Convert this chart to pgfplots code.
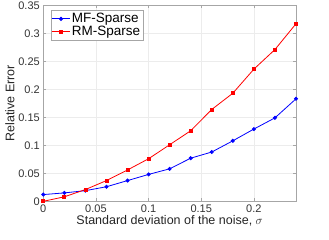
\documentclass[border=0pt]{standalone}
\usepackage{fontspec}
\setmainfont{Liberation Sans}
\usepackage{pgfplots}
\pgfplotsset{compat=1.18}
\begin{document}
\begin{tikzpicture}
\useasboundingbox (-43.3pt,-38.7pt) rectangle (285.7pt,201.3pt);
\begin{axis}[
  at={(0,0)}, anchor=south west,
  scale only axis,
  width=252.7pt, height=196pt,
  xmin=0, xmax=0.24, ymin=0, ymax=0.35,
  xtick={0,0.05,0.1,0.15,0.2},
  ytick={0,0.05,0.1,0.15,0.2,0.25,0.3,0.35},
  xticklabels={0,0.05,0.1,0.15,0.2},
  yticklabels={0,0.05,0.1,0.15,0.2,0.25,0.3,0.35},
  grid=major,
  grid style={gray!15, line width=0.4pt},
  axis line style={gray!70},
  tick style={gray!70},
  tick align=inside,
  major tick length=3pt,
  ticklabel style={font=\fontsize{11}{12}\selectfont, text=black!80},
  xlabel={Standard deviation of the noise, $\sigma$},
  ylabel={Relative Error},
  label style={font=\fontsize{12.5}{14}\selectfont, text=black!85},
  xlabel style={yshift=4pt},
  ylabel style={yshift=-3pt},
  legend style={at={(0.03,0.975)}, anchor=north west, font=\fontsize{13.5}{15}\selectfont,
    draw=gray!70, inner sep=1pt, row sep=-2pt, cells={anchor=west}},
  legend cell align=left,
]
\addplot[blue, line width=0.8pt, mark=*, mark size=1.6pt] coordinates {
(0,0.012) (0.02,0.015) (0.04,0.019) (0.06,0.026) (0.08,0.037) (0.10,0.048)
(0.12,0.058) (0.14,0.077) (0.16,0.088) (0.18,0.108) (0.20,0.129) (0.22,0.149) (0.24,0.183)};
\addlegendentry{MF-Sparse}
\addplot[red, line width=0.8pt, mark=square*, mark size=1.5pt] coordinates {
(0,0.0) (0.02,0.008) (0.04,0.021) (0.06,0.037) (0.08,0.056) (0.10,0.076)
(0.12,0.101) (0.14,0.126) (0.16,0.164) (0.18,0.193) (0.20,0.236) (0.22,0.271) (0.24,0.317)};
\addlegendentry{RM-Sparse}
\end{axis}
\end{tikzpicture}
\end{document}
